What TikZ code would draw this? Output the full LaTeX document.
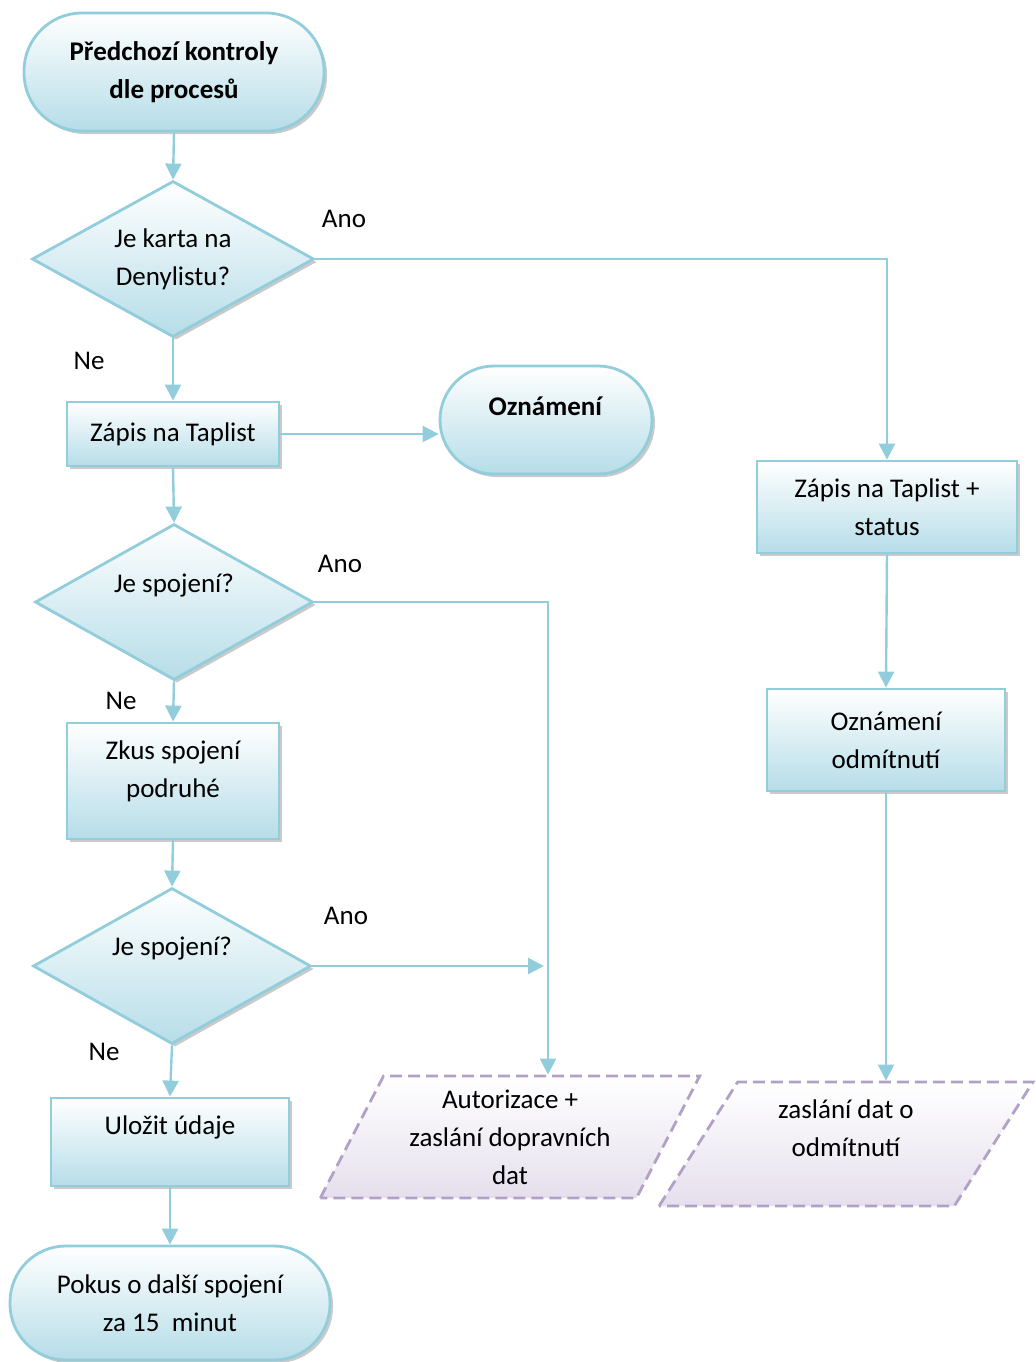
\documentclass[tikz,border=0pt]{standalone}
\usepackage{fontspec}
\setmainfont{Carlito}
\usetikzlibrary{arrows.meta, shapes.geometric, shadows}
\definecolor{flowline}{HTML}{92CDDC}
\definecolor{flowfill}{HTML}{B6DDE8}
\definecolor{ioline}{HTML}{B2A1C7}
\definecolor{iofill}{HTML}{E5DFEC}

\begin{document}
\begin{tikzpicture}[x=0.5pt, y=-0.5pt, font=\fontsize{13.5}{19}\selectfont,
  box/.style={draw=flowline, line width=1.4pt, top color=white, bottom color=flowfill,
    align=center, inner sep=0pt,
    drop shadow={shadow xshift=1.5pt, shadow yshift=-1.5pt, fill=gray!70, opacity=.6}},
  term/.style={box, rounded corners=#1},
  proc/.style={box},
  dec/.style={box, diamond, aspect=2},
  io/.style={trapezium, trapezium left angle=62, trapezium right angle=118,
    trapezium stretches=true, draw=ioline, line width=1.4pt, dash pattern=on 6pt off 3pt,
    top color=white, bottom color=iofill, align=center, inner sep=0pt},
  flow/.style={draw=flowline, line width=1.2pt, -{Triangle[length=8pt, width=8pt]}}]
  \useasboundingbox (0,0) rectangle (1035,1362);

  % left column
  \node[term=29pt, minimum width=150pt, minimum height=59pt] (start) at (174,72)
    {\textbf{Předchozí kontroly}\\\textbf{dle procesů}};
  \node[dec, minimum width=141pt, minimum height=78pt] (deny) at (173,259) {Je karta na\\Denylistu?};
  \node[proc, minimum width=106pt, minimum height=32pt] (tap) at (173,434) {Zápis na Taplist};
  \node[term=27pt, minimum width=106pt, minimum height=54pt,
    label={[yshift=6.75pt]center:\textbf{Oznámení}}] (ozn) at (546,420) {};
  \node[dec, minimum width=139pt, minimum height=78pt,
    label={[yshift=8pt]center:Je spojení?}] (conn1) at (174,602) {};
  \node[proc, minimum width=106pt, minimum height=58pt,
    label={[align=center, yshift=5pt]center:{Zkus spojení\\podruhé}}] (retry) at (173,781) {};
  \node[dec, minimum width=139pt, minimum height=78pt,
    label={[yshift=8.5pt]center:Je spojení?}] (conn2) at (172,966) {};
  \node[proc, minimum width=119pt, minimum height=44pt,
    label={[yshift=7.5pt]center:Uložit údaje}] (save) at (170,1142) {};
  \node[term=28pt, minimum width=160pt, minimum height=57pt] (later) at (170,1303)
    {Pokus o další spojení\\za 15\ \ minut};

  % right column
  \node[proc, minimum width=130pt, minimum height=46pt] (tapst) at (887,507) {Zápis na Taplist +\\status};
  \node[proc, minimum width=119pt, minimum height=51pt] (reject) at (886,740) {Oznámení\\odmítnutí};
  \node[io, minimum width=190pt, minimum height=61pt] (auth) at (510,1137)
    {Autorizace +\\zaslání dopravních\\dat};
  \node[io, trapezium left angle=61, trapezium right angle=119, minimum width=187pt, minimum height=62pt,
    text depth=16pt] (rejdata) at (846,1144) {zaslání dat o\\odmítnutí};

  % branch labels
  \node (ano1) at (344,219) {Ano};
  \node (ne1) at (89,361) {Ne};
  \node (ano2) at (340,564) {Ano};
  \node (ne2) at (121,701) {Ne};
  \node (ano3) at (346,916) {Ano};
  \node (ne3) at (104,1052) {Ne};

  % connectors
  \coordinate (merge) at (544,966);
  \draw[flow] (start.south) -- (deny.north);
  \draw[flow] (deny.east) -| (tapst.north);
  \draw[flow] (deny.south) -- (tap.north);
  \draw[flow] (tap.east) -- (tap.east -| ozn.west);
  \draw[flow] (tap.south) -- (conn1.north);
  \draw[flow] (conn1.east) -| ([xshift=19pt]auth.north);
  \draw[flow] (conn1.south) -- (retry.north);
  \draw[flow] (retry.south) -- (conn2.north);
  \draw[flow] (conn2.east) -- (merge);
  \draw[flow] (conn2.south) -- (save.north);
  \draw[flow] (save.south) -- (later.north);
  \draw[flow] (tapst.south) -- (reject.north);
  \draw[flow] (reject.south) -- (reject.south |- rejdata.north);
\end{tikzpicture}
\end{document}
